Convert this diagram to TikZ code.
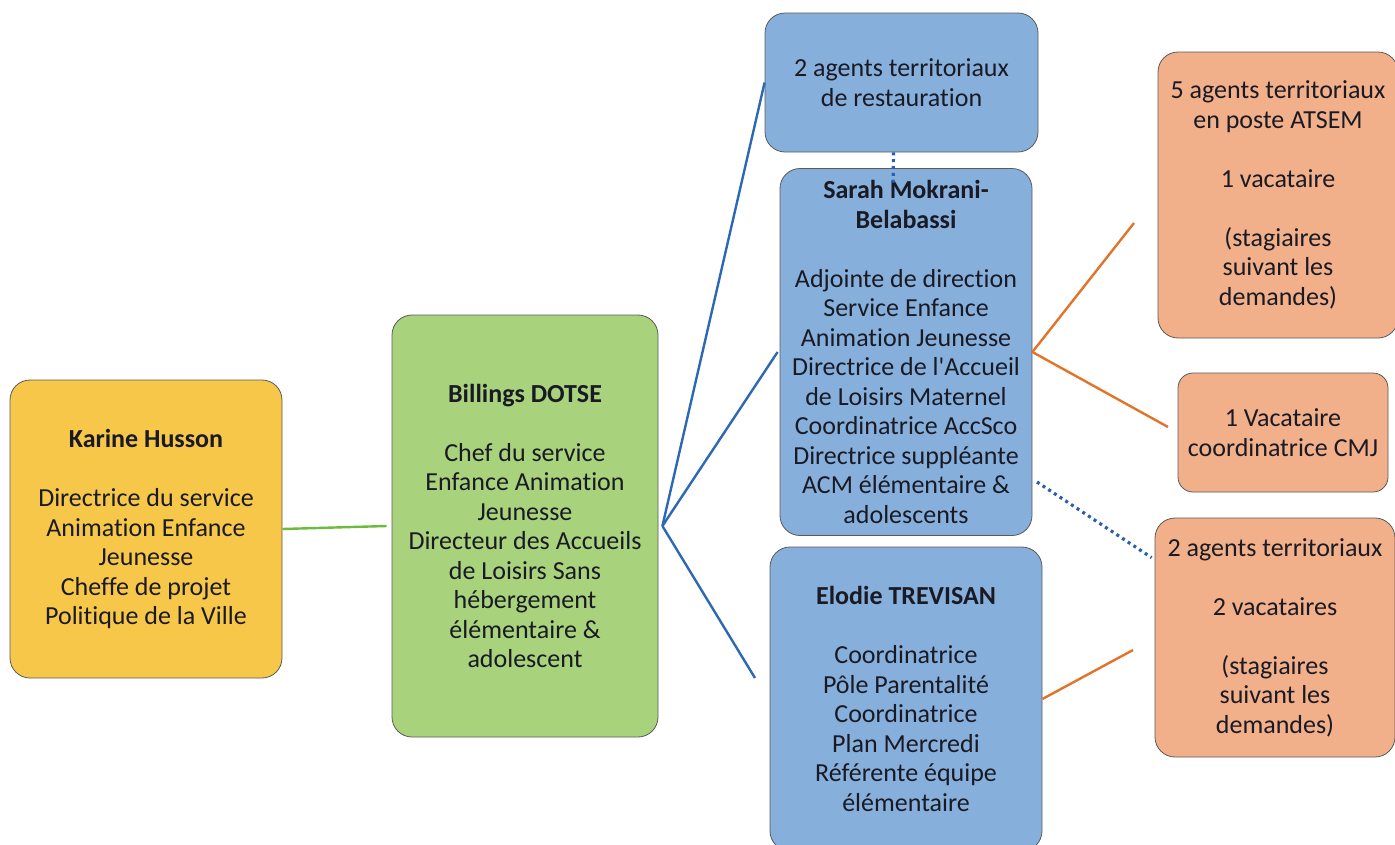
\documentclass[tikz,border=0pt]{standalone}
\usepackage{fontspec}
\setmainfont{Carlito}[Ligatures=NoCommon]
\usetikzlibrary{calc}
\definecolor{txt}{HTML}{1A1A24}
\definecolor{yfill}{HTML}{F6C748}
\definecolor{gfill}{HTML}{A8D27C}
\definecolor{bfill}{HTML}{86B0DB}
\definecolor{ofill}{HTML}{F1B08A}
\definecolor{boxline}{HTML}{5A5A5A}
\definecolor{blueline}{HTML}{2D68B2}
\definecolor{greenline}{HTML}{6DBB3C}
\definecolor{orangeline}{HTML}{E2742A}
\definecolor{dotblue}{HTML}{2A5FB0}
\tikzset{
  box/.style={draw=boxline, line width=0.8pt, rounded corners=20pt, align=center,
    text=txt, inner sep=0pt,
    font=\fontsize{26pt}{29.5pt}\selectfont},
  yellowbox/.style={box, fill=yfill},
  greenbox/.style={box, fill=gfill},
  bluebox/.style={box, fill=bfill},
  orangebox/.style={box, fill=ofill},
  blueconn/.style={draw=blueline, line width=2.4pt},
  greenconn/.style={draw=greenline, line width=2.4pt},
  orangeconn/.style={draw=orangeline, line width=2.4pt},
  dotconn/.style={draw=dotblue, line width=3.2pt, dash pattern=on 3pt off 3.8pt}
}
\begin{document}
\begin{tikzpicture}[x=1pt, y=-1pt]
\useasboundingbox (0,0) rectangle (1395,844);

% Karine
\node[yellowbox, minimum width=272pt, minimum height=298pt] (kar) at (146,529)
  {\textbf{Karine Husson}\\[29.5pt] Directrice du service\\ Animation Enfance\\ Jeunesse\\ Cheffe de projet\\ Politique de la Ville};

% Billings
\node[greenbox, minimum width=266pt, minimum height=422pt] (bil) at (525,526)
  {\textbf{Billings DOTSE}\\[29.5pt] Chef du service\\ Enfance Animation\\ Jeunesse\\ Directeur des Accueils\\ de Loisirs Sans\\ hébergement\\ élémentaire \&\\ adolescent};

% Restauration
\node[bluebox, minimum width=273pt, minimum height=139pt] (rest) at (901.5,82.5)
  {2 agents territoriaux\\ de restauration};

% Sarah
\node[bluebox, minimum width=252pt, minimum height=367pt] (sarah) at (906,352)
  {\textbf{Sarah Mokrani-}\\ \textbf{Belabassi}\\[29.5pt] Adjointe de direction\\ Service Enfance\\ Animation Jeunesse\\ Directrice de l\textquotesingle Accueil\\ de Loisirs Maternel\\ Coordinatrice AccSco\\ Directrice suppléante\\ ACM élémentaire \&\\ adolescents};

% Elodie
\node[bluebox, minimum width=272pt, minimum height=304pt] (elo) at (906,699)
  {\textbf{Elodie TREVISAN}\\[29.5pt] Coordinatrice\\ Pôle Parentalité\\ Coordinatrice\\ Plan Mercredi\\ Référente équipe\\ élémentaire};

% Orange boxes
\node[orangebox, minimum width=240pt, minimum height=286pt] (ora1) at (1278,195)
  {5 agents territoriaux\\ en poste ATSEM\\[29.5pt] 1 vacataire\\[29.5pt] (stagiaires\\ suivant les\\ demandes)};
\node[orangebox, rounded corners=15pt, minimum width=210pt, minimum height=119pt] (ora2) at (1283,432.5)
  {1 Vacataire\\ coordinatrice CMJ};
\node[orangebox, minimum width=240pt, minimum height=239pt] (ora3) at (1275,637.5)
  {2 agents territoriaux\\[29.5pt] 2 vacataires\\[29.5pt] (stagiaires\\ suivant les\\ demandes)};

% free ends
\coordinate (eloin) at (755,678);
\coordinate (o1in) at (1134,223);
\coordinate (o2in) at (1168,427);
\coordinate (o3in) at (1133,650);
\coordinate (sdot) at (1037,482);

% connectors
\draw[greenconn] (kar.east) -- ([xshift=-5pt]bil.west);
\draw[blueconn] ([xshift=4pt]bil.east) -- (rest.west);
\draw[blueconn] ([xshift=4pt]bil.east) -- ([shift={(-2pt,0)}]sarah.west);
\draw[blueconn] ([xshift=4pt]bil.east) -- (eloin);
\draw[orangeconn] (sarah.east) -- (o1in);
\draw[orangeconn] (sarah.east) -- (o2in);
\draw[orangeconn] (elo.east) -- (o3in);
\draw[dotconn] ([xshift=-8pt]rest.south) -- ([xshift=-13pt,yshift=-18pt]sarah.north);
\draw[dotconn] (sdot) -- ($(ora3.north west)+(-3,40)$);
\end{tikzpicture}
\end{document}
